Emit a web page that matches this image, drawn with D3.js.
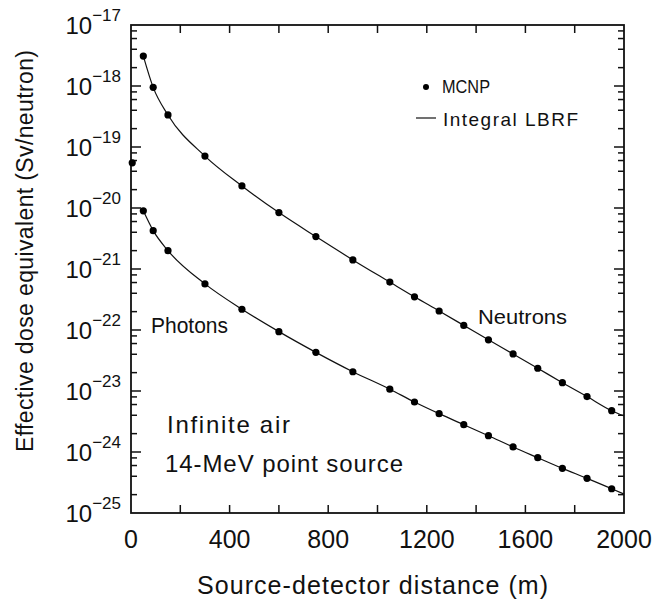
<!DOCTYPE html>
<html>
<head>
<meta charset="utf-8">
<script src="https://cdn.jsdelivr.net/npm/d3@7"></script>
<style>
  html, body { margin: 0; padding: 0; background: #fff; }
  text { font-family: "Liberation Sans", Arial, sans-serif; fill: #111; }
</style>
</head>
<body>
<svg id="chart" width="661" height="601"></svg>
<script>
// Source-detector distances (m) of the MCNP points
const distances = [50, 90, 150, 300, 450, 600, 750, 900, 1050, 1150, 1250, 1350, 1450, 1550, 1650, 1750, 1850, 1950];
// MCNP effective dose equivalent (Sv/neutron)
const neutronMCNP = [3.1e-18, 9.5e-19, 3.35e-19, 7.1e-20, 2.3e-20, 8.4e-21, 3.4e-21, 1.41e-21, 6.1e-22, 3.5e-22, 2.05e-22, 1.19e-22, 6.9e-23, 4.05e-23, 2.36e-23, 1.37e-23, 8.1e-24, 4.75e-24];
const photonMCNP  = [9.0e-21, 4.25e-21, 2.0e-21, 5.7e-22, 2.19e-22, 9.4e-23, 4.3e-23, 2.07e-23, 1.07e-23, 6.6e-24, 4.25e-24, 2.8e-24, 1.85e-24, 1.21e-24, 8.07e-25, 5.4e-25, 3.7e-25, 2.5e-25];
// single MCNP point close to the source
const nearDistance = [5];
const nearNeutron = [5.5e-20];

// Integral LBRF curves
const lbrfDistances = [50, 90, 150, 300, 450, 600, 750, 900, 1050, 1150, 1250, 1350, 1450, 1550, 1650, 1750, 1850, 1950, 2000];
const lbrfNeutron = [3.1e-18, 9.5e-19, 3.35e-19, 7.1e-20, 2.3e-20, 8.4e-21, 3.4e-21, 1.41e-21, 6.1e-22, 3.5e-22, 2.05e-22, 1.19e-22, 6.9e-23, 4.05e-23, 2.36e-23, 1.37e-23, 8.1e-24, 4.75e-24, 3.9e-24];
const lbrfPhoton  = [9.0e-21, 4.25e-21, 2.0e-21, 5.7e-22, 2.19e-22, 9.4e-23, 4.3e-23, 2.07e-23, 1.07e-23, 6.6e-24, 4.25e-24, 2.8e-24, 1.85e-24, 1.21e-24, 8.07e-25, 5.4e-25, 3.7e-25, 2.5e-25, 2.04e-25];

// axis ticks
const xTickValues = [0, 200, 400, 600, 800, 1000, 1200, 1400, 1600, 1800, 2000];
const xTickLabels = ["0", "400", "800", "1200", "1600", "2000"];
const yExponents = [-25, -24, -23, -22, -21, -20, -19, -18, -17];
const yMinorMultipliers = [2, 4, 6, 8];

const svg = d3.select("#chart");
const plotL = 131, plotR = 624, plotT = 25, plotB = 513;

const x = d3.scaleLinear().domain([0, 2000]).range([plotL, plotR]);
const y = d3.scaleLog().domain([1e-25, 1e-17]).range([plotB, plotT]);

const g = svg.append("g");

// frame
g.append("rect")
  .attr("x", plotL).attr("y", plotT)
  .attr("width", plotR - plotL).attr("height", plotB - plotT)
  .attr("fill", "none").attr("stroke", "#111").attr("stroke-width", 1.8);

// x ticks (inside, bottom and top)
const xt = g.append("g").attr("stroke", "#111").attr("stroke-width", 1.5);
xTickValues.forEach(v => {
  if (v === 0 || v === 2000) return;
  xt.append("line").attr("x1", x(v)).attr("x2", x(v)).attr("y1", plotB).attr("y2", plotB - 8);
  xt.append("line").attr("x1", x(v)).attr("x2", x(v)).attr("y1", plotT).attr("y2", plotT + 8);
});
xTickLabels.forEach(s => {
  g.append("text")
    .attr("x", x(+s)).attr("y", 548)
    .attr("text-anchor", "middle")
    .attr("font-size", 25)
    .text(s);
});

// y ticks (inside, left and right)
const yt = g.append("g").attr("stroke", "#111").attr("stroke-width", 1.5);
yExponents.forEach(e => {
  const v = Math.pow(10, e);
  if (e !== -25 && e !== -17) {
    yt.append("line").attr("x1", plotL).attr("x2", plotL + 10).attr("y1", y(v)).attr("y2", y(v));
    yt.append("line").attr("x1", plotR).attr("x2", plotR - 10).attr("y1", y(v)).attr("y2", y(v));
  }
  if (e < -17) {
    yMinorMultipliers.forEach(m => {
      const mv = m * v;
      yt.append("line").attr("x1", plotL).attr("x2", plotL + 6).attr("y1", y(mv)).attr("y2", y(mv));
      yt.append("line").attr("x1", plotR).attr("x2", plotR - 6).attr("y1", y(mv)).attr("y2", y(mv));
    });
  }
  const lab = g.append("text")
    .attr("x", 121).attr("y", y(v) + 9)
    .attr("text-anchor", "end")
    .attr("font-size", 24);
  lab.append("tspan").text("10");
  lab.append("tspan").attr("dy", -13).attr("font-size", 17).text("\u2212" + Math.abs(e));
});

// axis titles
g.append("text")
  .attr("x", 197).attr("y", 594)
  .attr("font-size", 25)
  .attr("textLength", 351).attr("lengthAdjust", "spacing")
  .text("Source-detector distance (m)");

g.append("text")
  .attr("transform", "translate(33, 452) rotate(-90)")
  .attr("font-size", 23)
  .attr("textLength", 402).attr("lengthAdjust", "spacing")
  .text("Effective dose equivalent (Sv/neutron)");

// LBRF curves
const line = d3.line()
  .x(d => x(d[0]))
  .y(d => y(d[1]))
  .curve(d3.curveMonotoneX);

[lbrfNeutron, lbrfPhoton].forEach(vals => {
  g.append("path")
    .datum(lbrfDistances.map((d, i) => [d, vals[i]]))
    .attr("d", line)
    .attr("fill", "none")
    .attr("stroke", "#111")
    .attr("stroke-width", 1.2);
});

// MCNP points
[neutronMCNP, photonMCNP].forEach(vals => {
  g.append("g").selectAll("circle")
    .data(distances.map((d, i) => [d, vals[i]]))
    .join("circle")
    .attr("cx", d => x(d[0]))
    .attr("cy", d => y(d[1]))
    .attr("r", 3.6)
    .attr("fill", "#000");
});
g.append("g").selectAll("circle")
  .data(nearDistance.map((d, i) => [d, nearNeutron[i]]))
  .join("circle")
  .attr("cx", d => x(d[0]))
  .attr("cy", d => y(d[1]))
  .attr("r", 3.6)
  .attr("fill", "#000");

// legend
g.append("circle").attr("cx", 426).attr("cy", 87).attr("r", 3).attr("fill", "#000");
g.append("text").attr("x", 442).attr("y", 93).attr("font-size", 18)
  .attr("textLength", 48).attr("lengthAdjust", "spacingAndGlyphs").text("MCNP");
g.append("line").attr("x1", 416).attr("x2", 436).attr("y1", 118).attr("y2", 118)
  .attr("stroke", "#111").attr("stroke-width", 1.2);
g.append("text").attr("x", 443).attr("y", 126).attr("font-size", 19)
  .attr("textLength", 135).attr("lengthAdjust", "spacing").text("Integral LBRF");

// curve labels and notes
g.append("text").attr("x", 151).attr("y", 333).attr("font-size", 22)
  .attr("textLength", 77).attr("lengthAdjust", "spacingAndGlyphs").text("Photons");
g.append("text").attr("x", 478).attr("y", 324).attr("font-size", 21)
  .attr("textLength", 89).attr("lengthAdjust", "spacingAndGlyphs").text("Neutrons");
g.append("text").attr("x", 167).attr("y", 433).attr("font-size", 24)
  .attr("textLength", 123).attr("lengthAdjust", "spacing").text("Infinite air");
g.append("text").attr("x", 165).attr("y", 472).attr("font-size", 24)
  .attr("textLength", 238).attr("lengthAdjust", "spacing").text("14-MeV point source");
</script>
</body>
</html>
